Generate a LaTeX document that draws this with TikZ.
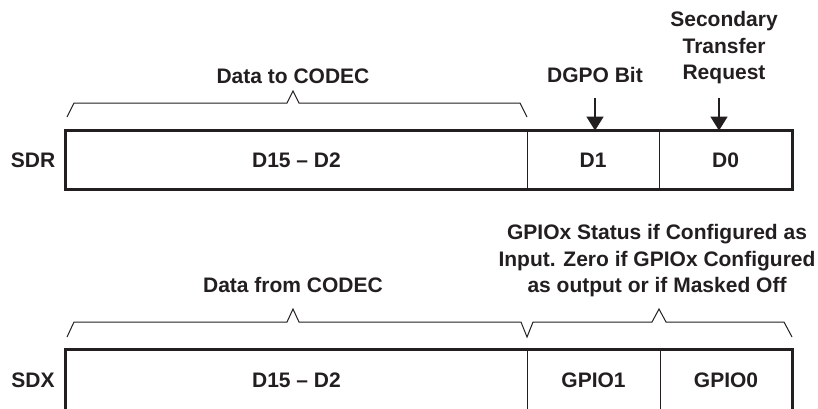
\documentclass[tikz,border=0pt]{standalone}
\usepackage{fontspec}
\setmainfont{Liberation Sans}
\usetikzlibrary{arrows.meta}
\definecolor{ink}{HTML}{231F20}
\begin{document}
\begin{tikzpicture}[x=1pt,y=-1pt,
  lbl/.style={font=\bfseries\fontsize{21}{26.5}\selectfont, text=ink, inner sep=0pt, anchor=base},
  multi/.style={font=\bfseries\fontsize{21}{26.5}\selectfont, text=ink, inner sep=0pt, align=center, anchor=south, text depth=0pt},
  cell/.style={draw=ink, line width=0.9pt, inner sep=0pt, text height=15pt, text depth=0pt,
    font=\bfseries\fontsize{21}{26.5}\selectfont, text=ink},
  outer/.style={draw=ink, line width=2.6pt},
  brace/.style={draw=ink, line width=1pt, line join=miter},
  arr/.style={draw=ink, line width=1.6pt, -{Triangle[width=17pt,length=14pt]}}]
\useasboundingbox (0,0) rectangle (818,408);
\clip (0,0) rectangle (818,408);
% top register
\node[cell, minimum width=461pt, minimum height=58pt] (r15) at (296.5,160) {D15 – D2};
\node[cell, minimum width=132pt, minimum height=58pt] (r1) at (593,160) {D1};
\node[cell, minimum width=133pt, minimum height=58pt] (r0) at (725.5,160) {D0};
\draw[outer] (r15.north west) rectangle (r0.south east);
\node[lbl] (sdr) at (33,167.5) {SDR};
% bottom register
\node[cell, minimum width=461pt, minimum height=60pt] (x15) at (296.5,380) {D15 – D2};
\node[cell, minimum width=133pt, minimum height=60pt] (x1) at (593.5,380) {GPIO1};
\node[cell, minimum width=132pt, minimum height=60pt] (x0) at (726,380) {GPIO0};
\draw[outer] (x15.north west) rectangle (x0.south east);
\node[lbl] (sdx) at (33,387.5) {SDX};
% labels
\node[lbl] (t1) at (293,83) {Data to CODEC};
\node[lbl] (t2) at (595,82) {DGPO Bit};
\node[multi] (t3) at (724,80) {Secondary\\Transfer\\Request};
\node[multi] (t4) at (657,293) {GPIOx Status if Configured as\\Input. Zero if GPIOx Configured\\as output or if Masked Off};
\node[lbl] (t5) at (293,292.5) {Data from CODEC};
% braces
\draw[brace] (67,117) -- (74,103) -- (287,103) -- (293,91) -- (299,103) -- (520,103) -- (527,117);
\draw[brace] (67,337) -- (74,322) -- (287,322) -- (293,309) -- (299,322) -- (521,322) -- (527,337)
  -- (533,322) -- (652,322) -- (659,309) -- (666,322) -- (784,322) -- (792,337);
% arrows
\coordinate (a1) at (595,98);
\coordinate (a0) at (719,98);
\draw[arr] (a1) -- (a1 |- r1.north);
\draw[arr] (a0) -- (a0 |- r0.north);
\end{tikzpicture}
\end{document}
